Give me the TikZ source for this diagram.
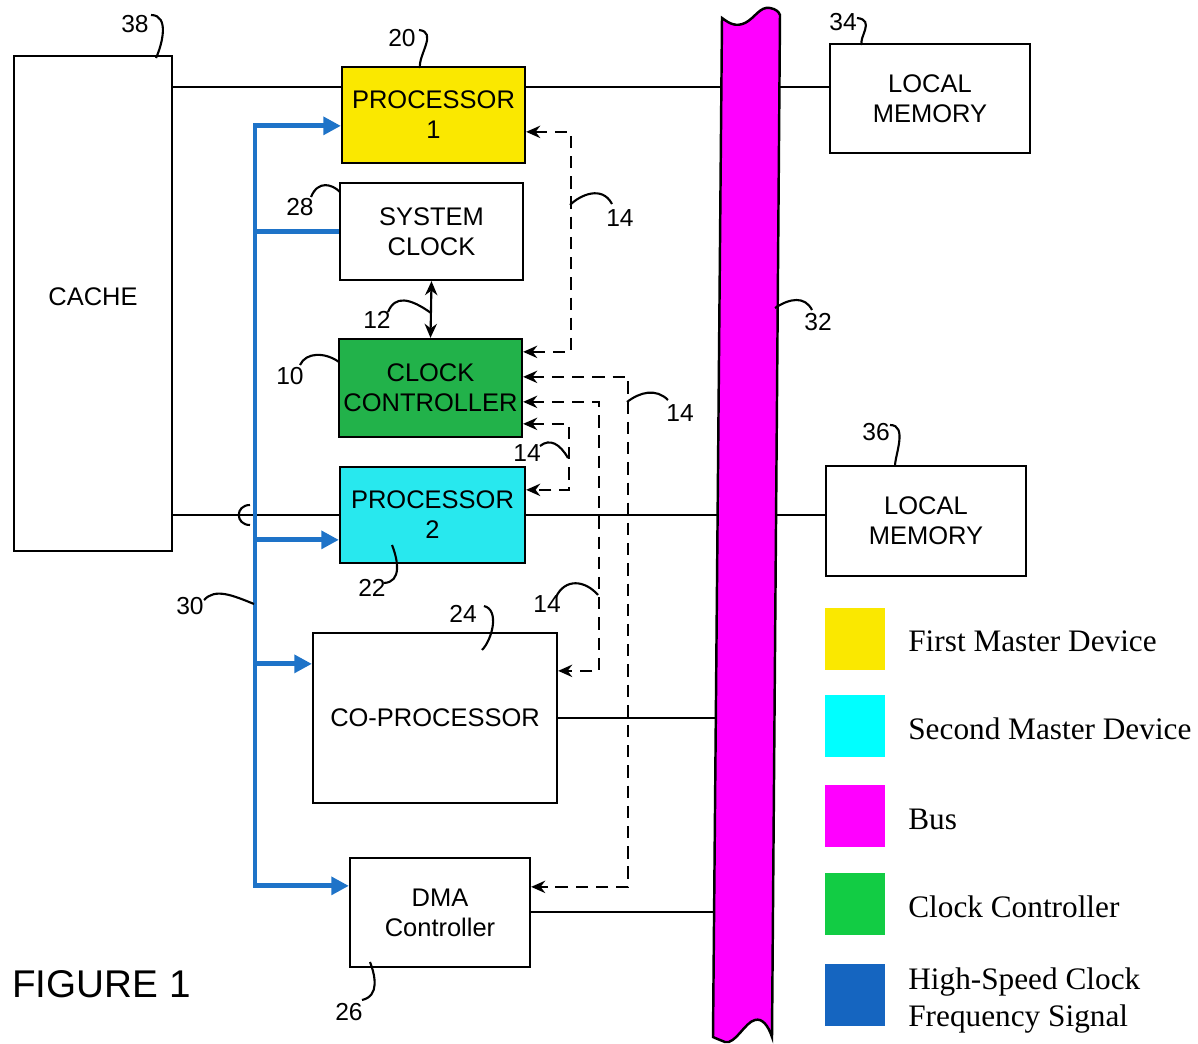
\documentclass[tikz,border=0pt]{standalone}
\usepackage{fontspec}
\setmainfont{Liberation Sans}
\newfontfamily\legserif{Liberation Serif}
\usetikzlibrary{arrows.meta,calc}
\definecolor{pyellow}{RGB}{250,232,0}
\definecolor{pcyan}{RGB}{40,232,238}
\definecolor{lcyan}{RGB}{0,255,255}
\definecolor{pgreen}{RGB}{34,178,74}
\definecolor{lgreen}{RGB}{18,204,68}
\definecolor{lblue}{RGB}{21,101,192}
\definecolor{bline}{RGB}{30,115,200}
\definecolor{pmag}{RGB}{255,0,255}
\tikzset{
  box/.style={draw, line width=1.3pt, inner sep=0pt, align=center, font=\fontsize{14.5}{17}\selectfont},
  num/.style={inner sep=0pt, font=\fontsize{14}{16}\selectfont},
  lead/.style={line width=1.2pt},
  conn/.style={line width=1.2pt},
  dashconn/.style={line width=1.5pt, dash pattern=on 7pt off 4.5pt, {Stealth[length=8pt,width=7pt]}-{Stealth[length=8pt,width=7pt]}},
  bl/.style={draw=bline, line width=2.8pt},
  blarrow/.style={bl, -{Triangle[length=10pt,width=10pt]}},
  legsq/.style={inner sep=0pt, minimum width=1.2cm, minimum height=1.24cm},
  legtext/.style={anchor=base west, inner sep=0pt, font=\legserif\fontsize{17.8}{21}\selectfont}
}
\begin{document}
\begin{tikzpicture}[x=0.02cm, y=-0.02cm]
\useasboundingbox (0,0) rectangle (1198,1044);

% boxes
\node[box, minimum width=3.16cm, minimum height=9.9cm] (cache) at (93,303.5) {\raisebox{8pt}{CACHE}};
\node[box, fill=pyellow, minimum width=3.66cm, minimum height=1.92cm] (p1) at (433.5,115) {PROCESSOR\\1};
\node[box, minimum width=3.66cm, minimum height=1.94cm] (sysclk) at (431.5,231.5) {SYSTEM\\CLOCK};
\node[box, fill=pgreen, minimum width=3.66cm, minimum height=1.96cm] (cc) at (430.5,388) {CLOCK\\CONTROLLER};
\node[box, fill=pcyan, minimum width=3.7cm, minimum height=1.92cm] (p2) at (432.5,515) {PROCESSOR\\2};
\node[box, minimum width=4.88cm, minimum height=3.4cm] (cop) at (435,718) {CO-PROCESSOR};
\node[box, minimum width=3.6cm, minimum height=2.18cm] (dma) at (440,912.5) {DMA\\Controller};
\node[box, minimum width=4cm, minimum height=2.18cm] (lm34) at (930,98.5) {LOCAL\\MEMORY};
\node[box, minimum width=4cm, minimum height=2.2cm] (lm36) at (926,521) {LOCAL\\MEMORY};

% rows of the black connectors
\coordinate (r1) at (0,87);
\coordinate (r2) at (0,515);
\coordinate (r3) at (0,718);
\coordinate (r4) at (0,912);
\coordinate (busx) at (745,0);

\draw[conn] (cache.east |- r1) -- (p1.west |- r1);
\draw[conn] (p1.east |- r1) -- (lm34.west |- r1);
\draw[conn] (cache.east |- r2) -- (p2.west |- r2);
\draw[conn] (250,505) .. controls (235,505) and (235,525) .. (250,525);
\draw[conn] (p2.east |- r2) -- (lm36.west |- r2);
\draw[conn] (cop.east |- r3) -- (busx |- r3);
\draw[conn] (dma.east |- r4) -- (busx |- r4);

% system clock <-> clock controller
\draw[conn, {Stealth[length=8pt,width=7pt]}-{Stealth[length=8pt,width=7pt]}] (sysclk.south) -- (cc.north);

% dashed control lines 14
\draw[dashconn] ($(p1.north east)+(0,66)$) -- ++(45,0) |- ($(cc.north east)+(0,14)$);
\draw[dashconn] ($(cc.north east)+(0,39)$) -- ++(105,0) |- ($(dma.north east)+(0,30)$);
\draw[dashconn] ($(cc.north east)+(0,64)$) -- ++(76,0) |- ($(cop.north east)+(0,39)$);
\draw[dashconn] ($(cc.north east)+(0,86)$) -- ++(46,0) |- ($(p2.north east)+(0,24)$);

% blue high-speed clock lines
\coordinate (bx) at (255,0);
\path ($(p1.north west)+(0,60)$) coordinate (b1)
      ($(sysclk.north west)+(0,50)$) coordinate (b2)
      ($(p2.north west)+(0,74)$) coordinate (b3)
      ($(cop.north west)+(0,32)$) coordinate (b4)
      ($(dma.north west)+(0,29)$) coordinate (b5);
\draw[bl, line cap=rect] (bx |- b1) -- (bx |- b5);
\draw[blarrow] (bx |- b1) -- (b1);
\draw[bl] (bx |- b2) -- (b2);
\draw[blarrow] (bx |- b3) -- (b3);
\draw[blarrow] (bx |- b4) -- (b4);
\draw[blarrow] (bx |- b5) -- (b5);

% bus
\draw[line width=1.4pt, fill=pmag]
  (722,18) .. controls (730,24) and (736,27) .. (745,23)
  .. controls (755,18) and (760,6) .. (770,8)
  .. controls (776,9) and (779,12) .. (780,15)
  -- (772,1037)
  .. controls (768,1025) and (762,1018) .. (755,1020)
  .. controls (745,1022) and (735,1045) .. (725,1042)
  .. controls (720,1040) and (715,1038) .. (713,1037) -- cycle;

% reference numbers and leaders
\node[num] (n38) at (135,24) {38};
\draw[lead] (151,15) .. controls (170,15) and (162,45) .. (156,58);
\node[num] (n20) at (402,38) {20};
\draw[lead] (419,30) .. controls (438,32) and (418,55) .. (420,68);
\node[num] (n34) at (843,22) {34};
\draw[lead] (857,18) .. controls (876,20) and (858,38) .. (862,45);
\node[num] (n28) at (300,207) {28};
\draw[lead] (311,197) .. controls (318,180) and (332,184) .. (340,192);
\node[num] (n12) at (377,320) {12};
\draw[lead] (388,312) .. controls (395,295) and (410,298) .. (431,313);
\node[num] (n10) at (290,376) {10};
\draw[lead] (300,365) .. controls (306,352) and (325,352) .. (339,362);
\node[num] (n14a) at (620,218) {14};
\draw[lead] (570,205) .. controls (580,195) and (602,185) .. (612,204);
\node[num] (n14b) at (680,413) {14};
\draw[lead] (627,402) .. controls (640,392) and (656,388) .. (668,400);
\node[num] (n14c) at (527,453) {14};
\draw[lead] (540,446) .. controls (550,438) and (560,444) .. (568,458);
\node[num] (n22) at (372,588) {22};
\draw[lead] (384,583) .. controls (402,582) and (398,560) .. (392,545);
\node[num] (n24) at (463,614) {24};
\draw[lead] (484,606) .. controls (500,610) and (492,640) .. (482,650);
\node[num] (n14d) at (547,604) {14};
\draw[lead] (556,597) .. controls (565,578) and (585,580) .. (598,595);
\node[num] (n30) at (190,606) {30};
\draw[lead] (204,600) .. controls (215,588) and (232,595) .. (254,604);
\node[num] (n32) at (818,322) {32};
\draw[lead] (775,308) .. controls (790,298) and (805,296) .. (812,310);
\node[num] (n36) at (876,432) {36};
\draw[lead] (890,425) .. controls (908,425) and (895,455) .. (895,466);
\node[num] (n26) at (349,1012) {26};
\draw[lead] (362,1000) .. controls (380,996) and (375,975) .. (370,962);

\node[anchor=base west, inner sep=0pt, font=\fontsize{22}{26}\selectfont] (fig) at (12,997) {FIGURE 1};

% legend
\node[legsq, fill=pyellow] (k1) at (855,639) {};
\node[legsq, fill=lcyan] (k2) at (855,726) {};
\node[legsq, fill=pmag] (k3) at (855,816) {};
\node[legsq, fill=lgreen] (k4) at (855,904) {};
\node[legsq, fill=lblue] (k5) at (855,995) {};
\node[legtext] (t1) at (908,651) {First Master Device};
\node[legtext] (t2) at (908,739) {Second Master Device};
\node[legtext] (t3) at (908,829) {Bus};
\node[legtext] (t4) at (908,917) {Clock Controller};
\node[legtext] (t5) at (908,989) {High-Speed Clock};
\node[legtext] (t6) at (908,1026) {Frequency Signal};
\end{tikzpicture}
\end{document}
